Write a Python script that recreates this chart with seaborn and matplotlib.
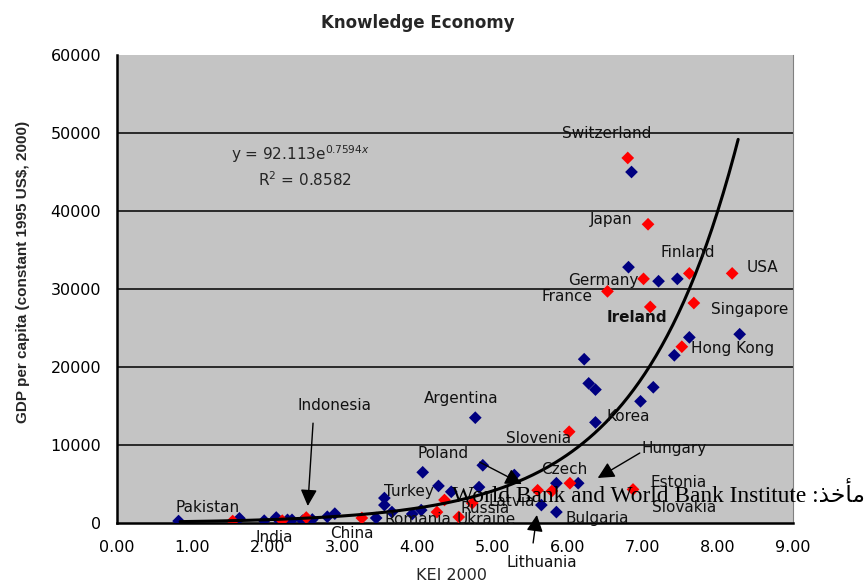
import matplotlib
matplotlib.use("Agg")
import matplotlib.pyplot as plt
import seaborn as sns
import numpy as np
import pandas as pd

# ---------------- data ----------------
kei_blue = [0.82, 1.63, 1.96, 2.12, 2.27, 2.33, 2.47, 2.60, 2.80, 2.90,
            3.45, 3.56, 3.56, 3.66, 3.93, 4.05, 4.07, 4.28, 4.45, 4.77,
            4.82, 4.87, 5.29, 5.65, 5.85, 5.85, 6.14, 6.37, 6.28, 6.37,
            6.22, 6.97, 7.14, 7.42, 7.62, 8.29, 6.81, 7.21, 7.46, 6.85]
gdp_blue = [250, 600, 300, 700, 400, 400, 300, 450, 800, 1200,
            640, 3200, 2300, 1400, 1150, 1650, 6500, 4750, 4000, 13500,
            4600, 7400, 6150, 2300, 5100, 1400, 5100, 12900, 17900, 17100,
            21000, 15600, 17400, 21500, 23800, 24200, 32800, 31000, 31300, 45000]

kei_red = [1.54, 2.20, 2.52, 3.26, 4.26, 4.36, 4.55, 4.73, 5.60, 5.79,
           6.03, 6.87, 6.02, 6.53, 7.01, 7.62, 8.19, 7.07, 6.80, 7.10,
           7.68, 7.52]
gdp_red = [250, 300, 700, 640, 1400, 2950, 770, 2550, 4200, 4100,
           5100, 4300, 11700, 29700, 31300, 32000, 32000, 38300, 46800, 27700,
           28200, 22600]

trend_a = 92.113
trend_b = 0.7594
trend_x_range = [0.84, 8.27]

country_names = ["Pakistan", "India", "China", "Indonesia", "Turkey", "Romania",
                 "Russia", "Latvia", "Ukraine", "Bulgaria", "Czech", "Hungary",
                 "Estonia", "Slovakia", "Slovenia", "Korea", "Argentina", "Poland",
                 "Lithuania", "Switzerland", "Japan", "Finland", "USA", "Germany",
                 "France", "Ireland", "Singapore", "Hong Kong"]

x_ticks = [0, 1, 2, 3, 4, 5, 6, 7, 8, 9]
y_ticks = [0, 10000, 20000, 30000, 40000, 50000, 60000]

title_text = "Knowledge Economy"
xlabel_text = "KEI 2000"
ylabel_text = "GDP per capita (constant 1995 US$, 2000)"
equation_text = "y = 92.113e$^{0.7594x}$"
r2_text = "R$^2$ = 0.8582"
source_text = "World Bank and World Bank Institute :" + "\uFEAC\uFEA7\uFE84\uFEE3"

# ---------------- layout (label positions in data coords) ----------------
label_pos = {
    "Pakistan": (1.20, 2050), "India": (2.10, -1800), "China": (3.13, -1400),
    "Indonesia": (2.90, 15100), "Turkey": (3.89, 4000), "Romania": (4.00, 400),
    "Russia": (4.90, 1900), "Latvia": (5.26, 2700), "Ukraine": (4.91, 400),
    "Bulgaria": (6.40, 640), "Czech": (5.96, 6800), "Hungary": (7.42, 9500),
    "Estonia": (7.48, 5250), "Slovakia": (7.55, 2050), "Slovenia": (5.61, 10800),
    "Korea": (6.80, 13600), "Argentina": (4.58, 15900), "Poland": (4.34, 8850),
    "Lithuania": (5.65, -5100), "Switzerland": (6.52, 50000), "Japan": (6.58, 38850),
    "Finland": (7.60, 34700), "USA": (8.59, 32700), "Germany": (6.48, 31150),
    "France": (5.99, 29000), "Ireland": (6.92, 26300), "Singapore": (8.42, 27400),
    "Hong Kong": (8.20, 22400),
}
arrows = [((2.61, 12800), (2.54, 2180)),
          ((4.83, 7800), (5.39, 5000)),
          ((6.96, 8970), (6.40, 5770)),
          ((5.54, -2560), (5.59, 1030))]

# ---------------- style ----------------
sns.set_style("white")
plt.rcParams["font.family"] = ["DejaVu Sans"]

W, H = 867, 588
fig = plt.figure(figsize=(W / 100, H / 100), dpi=100)
ax = fig.add_axes([117 / W, 1 - 523 / H, (793 - 117) / W, (523 - 55) / H])
ax.set_facecolor("#c4c4c4")

df = pd.DataFrame({
    "KEI": kei_blue + kei_red,
    "GDP": gdp_blue + gdp_red,
    "grp": ["blue"] * len(kei_blue) + ["red"] * len(kei_red),
})
sns.scatterplot(data=df, x="KEI", y="GDP", hue="grp",
                palette={"blue": "#000080", "red": "#ff0000"},
                marker="D", s=42, linewidth=0, legend=False, ax=ax, zorder=3)

tx = np.linspace(trend_x_range[0], trend_x_range[1], 300)
trend = pd.DataFrame({"KEI": tx, "GDP": trend_a * np.exp(trend_b * tx)})
sns.lineplot(data=trend, x="KEI", y="GDP", color="black", lw=2.2,
             estimator=None, ax=ax, zorder=4)

ax.set_xlim(0, 9)
ax.set_ylim(0, 60000)
ax.set_xticks(x_ticks)
ax.set_xticklabels([f"{v:.2f}" for v in x_ticks])
ax.set_yticks(y_ticks)
ax.set_yticklabels([str(v) for v in y_ticks])
ax.tick_params(axis="both", direction="out", length=4.5, width=1.3,
               color="black", labelsize=11.5, labelcolor="black")
ax.tick_params(axis="y", pad=7)
ax.tick_params(axis="x", pad=8)
ax.set_xlabel("")
ax.set_ylabel("")

for yv in y_ticks[1:-1]:
    ax.axhline(yv, color="black", lw=1.1, zorder=1)

for side in ["left", "bottom"]:
    ax.spines[side].set_color("black")
    ax.spines[side].set_linewidth(1.8)
for side in ["right", "top"]:
    ax.spines[side].set_color("#808080")
    ax.spines[side].set_linewidth(0.8)
ax.spines["top"].set_visible(False)

for name in country_names:
    x, y = label_pos[name]
    ax.text(x, y, name, fontsize=11, ha="center", va="center", color="#111111",
            clip_on=False, zorder=5,
            fontweight="bold" if name == "Ireland" else "normal")

for (x0, y0), (x1, y1) in arrows:
    ax.annotate("", xy=(x1, y1), xytext=(x0, y0), xycoords="data",
                annotation_clip=False,
                arrowprops=dict(arrowstyle="-|>,head_length=1.0,head_width=0.5",
                                color="black", lw=1.0, shrinkA=0, shrinkB=0),
                zorder=6)

ax.text((300 - 117) / 75.1, (523 - 154) * 128.2, equation_text, fontsize=11,
        ha="center", va="center", zorder=5)
ax.text((305 - 117) / 75.1, (523 - 180) * 128.2, r2_text, fontsize=11,
        ha="center", va="center", zorder=5)

fig.text(418 / W, 1 - 23 / H, title_text, fontsize=12, fontweight="bold",
         ha="center", va="center")
fig.text(452 / W, 1 - 575 / H, xlabel_text, fontsize=11.5, ha="center", va="center")
fig.text(23 / W, 1 - 272 / H, ylabel_text, fontsize=11, fontweight="bold",
         family=["Liberation Sans", "DejaVu Sans"],
         rotation=90, ha="center", va="center")

fig.text(452 / W, 1 - 502 / H, source_text, fontsize=16.8,
         family=["Liberation Serif", "DejaVu Sans"],
         ha="left", va="baseline", color="black", zorder=10)

fig.savefig("out.png", dpi=100)
